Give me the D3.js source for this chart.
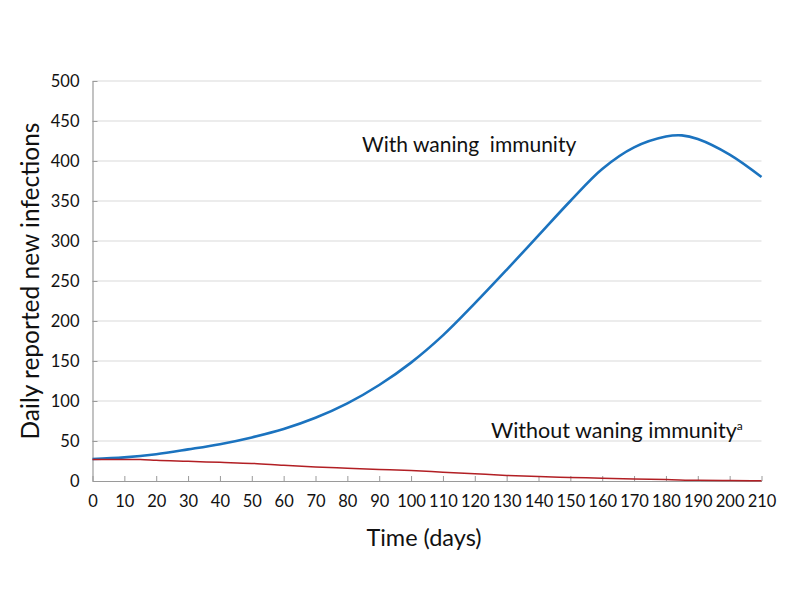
<!DOCTYPE html>
<html><head><meta charset="utf-8">
<script src="https://cdn.jsdelivr.net/npm/d3@7"></script>
<style>body{margin:0;background:#fff}svg{display:block}</style>
</head><body>
<script>
const days = [0,10,20,30,40,50,60,70,80,90,100,110,120,130,140,150,160,170,180,185,190,200,210];
const withWaning = [27.5,29.5,33.5,39.5,46,54.5,65,79,97,120,148,182,222,264,307,350,390,417,430.5,432,427.5,408,380];
const redDays = [0,10,15,20,30,40,50,60,70,80,90,100,110,120,130,140,150,160,170,180,190,200,210];
const withoutWaning = [27,27,27,25.8,24.6,23.3,22,19.6,17.5,16,14.5,13,11,9,7,5.5,4.5,3.5,2.5,1.8,0.8,0.5,0.4];
const xTicks = d3.range(0,211,10);
const yTicks = d3.range(0,501,50);
const labelWith = "With waning\u00a0 immunity";
const labelWithout = "Without waning immunity";
const xTitle = "Time (days)";
const yTitle = "Daily reported new infections";

const W=792,H=612;
const svg=d3.select("body").append("svg").attr("width",W).attr("height",H);
const x=d3.scaleLinear().domain([0,210]).range([92.5,761.5]);
const y=d3.scaleLinear().domain([0,500]).range([481,81]);
const font="Lato, 'Open Sans', sans-serif";

// gridlines
svg.append("g").selectAll("line").data(yTicks.filter(d=>d>0)).join("line")
  .attr("x1",x(0)).attr("x2",x(210)).attr("y1",d=>y(d)).attr("y2",d=>y(d))
  .attr("stroke","#d9d9d9").attr("stroke-width",1);

// axes
const gx=svg.append("g").attr("transform",`translate(0,${y(0)})`)
  .call(d3.axisBottom(x).tickValues(xTicks).tickSizeInner(-5).tickSizeOuter(0).tickPadding(14));
const gy=svg.append("g").attr("transform",`translate(${x(0)},0)`)
  .call(d3.axisLeft(y).tickValues(yTicks).tickSizeInner(-5).tickSizeOuter(0).tickPadding(13));
[gx,gy].forEach(g=>{
  g.select(".domain").attr("stroke","#9a9a9a").attr("stroke-width",1.2);
  g.selectAll(".tick line").attr("stroke","#9a9a9a");
  g.selectAll("text").attr("font-family",font).attr("font-size",16.5).attr("fill","#111");
});

// lines
const lineB=d3.line().x((d,i)=>x(days[i])).y(d=>y(d)).curve(d3.curveCatmullRom.alpha(0.5));
svg.append("path").datum(withWaning).attr("d",lineB).attr("fill","none")
  .attr("stroke","#1b73bf").attr("stroke-width",2.6);
const lineR=d3.line().x((d,i)=>x(redDays[i])).y(d=>y(d)).curve(d3.curveMonotoneX);
svg.append("path").datum(withoutWaning).attr("d",lineR).attr("fill","none")
  .attr("stroke","#b21f24").attr("stroke-width",1.5);

// annotations
svg.append("text").attr("x",362).attr("y",152).attr("font-family",font).attr("font-size",21)
  .attr("fill","#111").text(labelWith);
const t2=svg.append("text").attr("x",491).attr("y",438).attr("font-family",font).attr("font-size",21.5).attr("fill","#111");
t2.append("tspan").text(labelWithout);
t2.append("tspan").attr("font-size",12).attr("dy",-8).text("a");

// titles
svg.append("text").attr("x",(x(0)+x(210))/2 - 3).attr("y",546).attr("text-anchor","middle")
  .attr("font-family",font).attr("font-size",23.5).attr("fill","#111").text(xTitle);
svg.append("text").attr("transform",`translate(39,${281}) rotate(-90)`).attr("text-anchor","middle")
  .attr("font-family",font).attr("font-size",24.5).attr("fill","#111").text(yTitle);
</script>
</body></html>
